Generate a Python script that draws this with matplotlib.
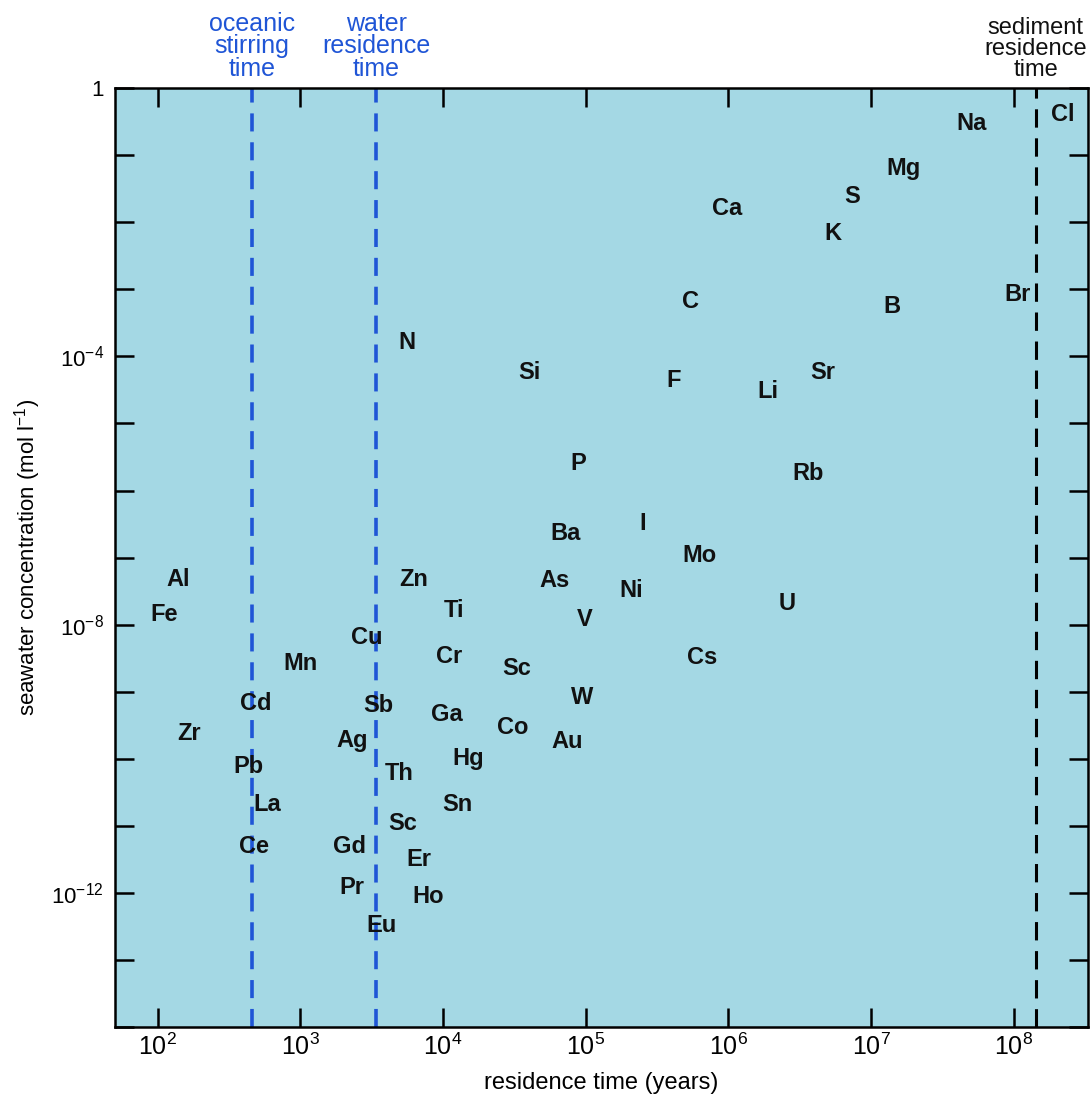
import numpy as np
import matplotlib
matplotlib.use("Agg")
import matplotlib.pyplot as plt
from matplotlib.ticker import FixedLocator, FuncFormatter, NullLocator

# element symbols, residence time (years), seawater concentration (mol/l)
elements = ["Na", "Cl", "Mg", "S", "Ca", "K", "C", "B", "Br", "F", "Li", "Sr", "Rb",
            "N", "Si", "P", "Ba", "I", "Mo", "Zn", "As", "Ni", "U", "Ti", "V",
            "Cr", "Cs", "Sc", "W", "Ga", "Co", "Au", "Al", "Fe", "Cu", "Mn",
            "Cd", "Sb", "Zr", "Ag", "Hg", "Pb", "Th", "La", "Sn", "Sc", "Ce",
            "Gd", "Er", "Pr", "Ho", "Eu"]
residence = [5.1e7, 2.2e8, 1.7e7, 7.4e6, 9.8e5, 5.4e6, 5.4e5, 1.4e7, 1.07e8, 4.1e5, 1.9e6, 4.6e6, 3.6e6,
             5.6e3, 4.0e4, 8.9e4, 7.2e4, 2.5e5, 6.3e5, 6.2e3, 6.0e4, 2.1e5, 2.6e6, 1.2e4, 9.8e4,
             1.1e4, 6.6e5, 3.3e4, 9.5e4, 1.07e4, 3.1e4, 7.4e4, 138, 110, 2.9e3, 1.0e3,
             490, 3.5e3, 166, 2.3e3, 1.5e4, 430, 4.9e3, 590, 1.26e4, 5.2e3, 470,
             2.2e3, 6.8e3, 2.3e3, 7.8e3, 3.7e3]
concentration = [0.30, 0.40, 0.063, 0.024, 0.016, 6.8e-3, 6.6e-4, 5.6e-4, 8.5e-4, 4.3e-5, 3.0e-5, 5.8e-5, 1.8e-6,
                 1.6e-4, 5.8e-5, 2.5e-6, 2.3e-7, 3.2e-7, 1.07e-7, 4.7e-8, 4.6e-8, 3.2e-8, 2.1e-8, 1.6e-8, 1.2e-8,
                 3.3e-9, 3.2e-9, 2.2e-9, 8.3e-10, 4.5e-10, 2.9e-10, 1.8e-10, 4.7e-8, 1.4e-8, 6.5e-9, 2.6e-9,
                 6.6e-10, 6.2e-10, 2.4e-10, 1.9e-10, 1.0e-10, 7.8e-11, 6.0e-11, 2.1e-11, 2.1e-11, 1.07e-11, 4.9e-12,
                 5.0e-12, 3.2e-12, 1.2e-12, 8.7e-13, 3.3e-13]

# characteristic times (years)
stirring_time = 455
water_time = 3.4e3
sediment_time = 1.43e8

x_ticks = [1e2, 1e3, 1e4, 1e5, 1e6, 1e7, 1e8]
y_ticks = [10.0 ** -k for k in range(0, 15)]
y_labelled = [0, -4, -8, -12]

plt.rcParams["font.family"] = ["Liberation Sans", "DejaVu Sans"]
plt.rcParams["mathtext.fontset"] = "custom"
plt.rcParams["mathtext.rm"] = "Liberation Sans"
plt.rcParams["mathtext.it"] = "Liberation Sans:italic"
plt.rcParams["mathtext.bf"] = "Liberation Sans:bold"

bg = "#a4d8e4"
blue = "#1f55d6"

fig = plt.figure(figsize=(10.9, 11.02), dpi=100)
ax = fig.add_axes([0.1055, 0.068, 0.8925, 0.852])
ax.set_facecolor(bg)
ax.set_xscale("log")
ax.set_yscale("log")
ax.set_xlim(10 ** 1.70, 10 ** 8.52)
ax.set_ylim(1e-14, 1.0)

for s in ax.spines.values():
    s.set_linewidth(1.8)

for sym, x, y in zip(elements, residence, concentration):
    ax.text(x, y, sym, ha="center", va="center", fontsize=17, fontweight="bold",
            color="#111111")

ax.axvline(stirring_time, color=blue, lw=2.6, ls=(0, (5, 3)))
ax.axvline(water_time, color=blue, lw=2.6, ls=(0, (5, 3)))
ax.axvline(sediment_time, color="black", lw=2.2, ls=(0, (6, 3.5)))

ax.xaxis.set_major_locator(FixedLocator(x_ticks))
ax.xaxis.set_minor_locator(NullLocator())
ax.xaxis.set_major_formatter(FuncFormatter(lambda v, p: r"$\mathregular{10^{%d}}$" % round(np.log10(v))))
ax.yaxis.set_major_locator(FixedLocator(y_ticks))
ax.yaxis.set_minor_locator(NullLocator())


def ylab(v, p):
    e = round(np.log10(v))
    if e not in y_labelled:
        return ""
    if e == 0:
        return "1"
    return r"$\mathregular{10^{%d}}$" % e


ax.yaxis.set_major_formatter(FuncFormatter(ylab))
ax.tick_params(axis="both", which="major", direction="in", length=14, width=1.8,
               top=True, right=True, pad=8)
ax.tick_params(axis="x", labelsize=18, pad=5)
ax.tick_params(axis="y", labelsize=16)

ax.set_xlabel("residence time (years)", fontsize=17, labelpad=8)
ax.set_ylabel("seawater concentration (mol l$^{-1}$)", fontsize=16, labelpad=6)

tr = ax.get_xaxis_transform()
ax.text(stirring_time, 1.008, "oceanic\nstirring\ntime", transform=tr, ha="center", va="bottom",
        fontsize=18, color=blue, linespacing=0.92)
ax.text(water_time, 1.008, "water\nresidence\ntime", transform=tr, ha="center", va="bottom",
        fontsize=18, color=blue, linespacing=0.92)
ax.text(sediment_time, 1.008, "sediment\nresidence\ntime", transform=tr, ha="center", va="bottom",
        fontsize=17, color="#111111", linespacing=0.92)

fig.savefig("out.png", dpi=100)
